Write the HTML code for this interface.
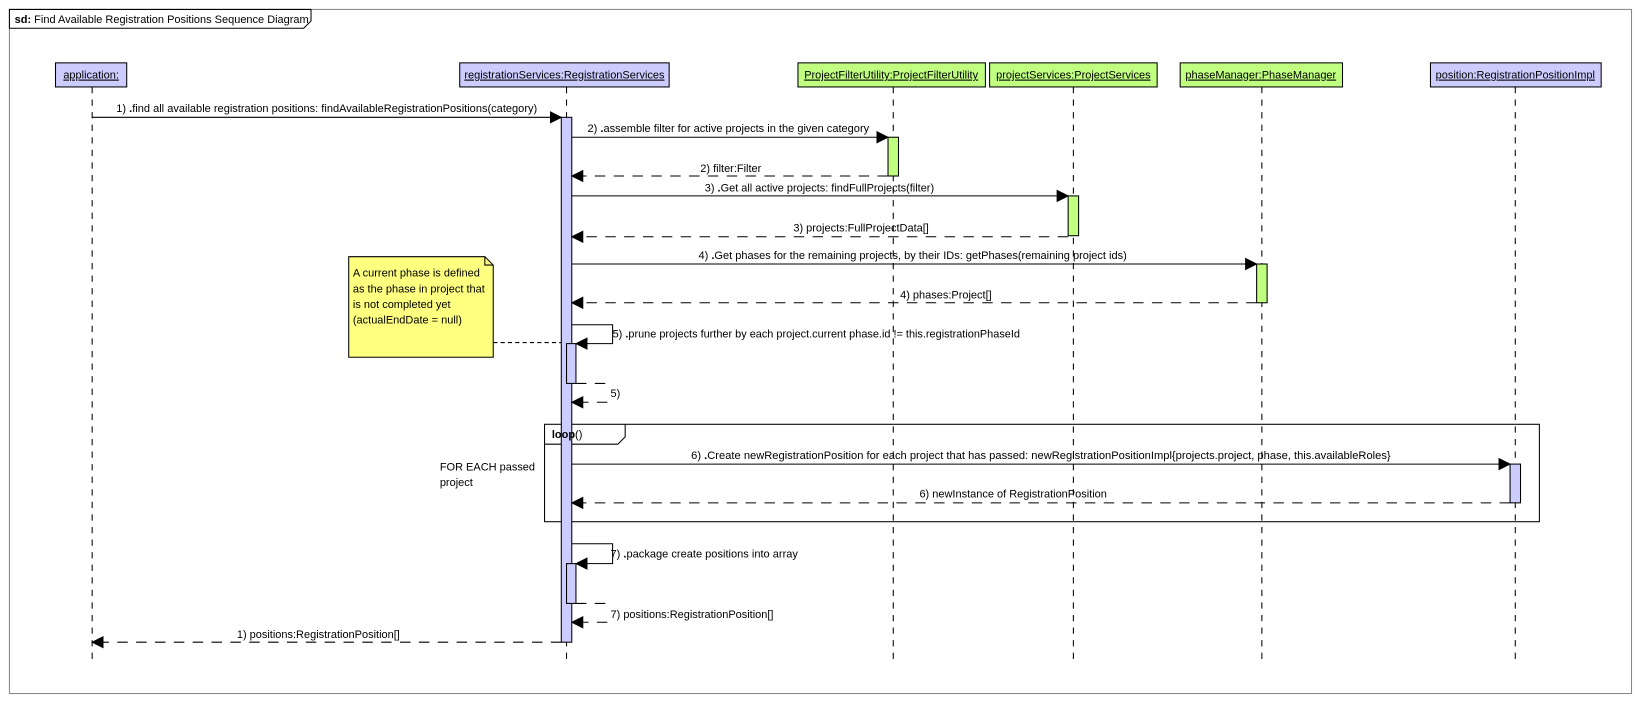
<!DOCTYPE html>
<html><head><meta charset="utf-8"><style>
html,body{margin:0;padding:0;background:#fff;}
svg{display:block;}
text{font-family:"Liberation Sans",sans-serif;font-size:10.5px;fill:#000;}
</style></head><body>
<svg width="1642" height="704" viewBox="0 0 1568 672" preserveAspectRatio="none" xmlns="http://www.w3.org/2000/svg">
<defs>
<marker id="a" markerWidth="12" markerHeight="12" refX="11" refY="6" orient="auto" markerUnits="userSpaceOnUse"><path d="M0,0 L12,6 L0,12 z" fill="#000"/></marker>
</defs>
<rect x="0" y="0" width="1568" height="672" fill="#fff"/>
<rect x="9" y="9" width="1549" height="653" fill="none" stroke="#888" stroke-width="1"/>
<path d="M9,9 H297 V20 L290,27 H9 Z" fill="#fff" stroke="#000"/>
<text x="14" y="22"><tspan font-weight="bold">sd:</tspan> Find Available Registration Positions Sequence Diagram</text>

<!-- lifelines -->
<g stroke="#000" stroke-dasharray="6,6" stroke-width="1">
<line x1="88" y1="83" x2="88" y2="633"/>
<line x1="541" y1="83" x2="541" y2="633"/>
<line x1="853" y1="83" x2="853" y2="633"/>
<line x1="1025" y1="83" x2="1025" y2="633"/>
<line x1="1205" y1="83" x2="1205" y2="633"/>
<line x1="1447" y1="83" x2="1447" y2="633"/>
</g>

<!-- headers -->
<g stroke="#000">
<rect x="53" y="60" width="68" height="23" fill="#ccccff"/>
<rect x="439" y="60" width="200" height="23" fill="#ccccff"/>
<rect x="762" y="60" width="179" height="23" fill="#c0ff80"/>
<rect x="945" y="60" width="160" height="23" fill="#c0ff80"/>
<rect x="1127" y="60" width="155" height="23" fill="#c0ff80"/>
<rect x="1366" y="60" width="163" height="23" fill="#ccccff"/>
</g>
<g text-decoration="underline" text-anchor="middle">
<text x="87" y="75">application:</text>
<text x="539" y="75">registrationServices:RegistrationServices</text>
<text x="851" y="75">ProjectFilterUtility:ProjectFilterUtility</text>
<text x="1025" y="75">projectServices:ProjectServices</text>
<text x="1204" y="75">phaseManager:PhaseManager</text>
<text x="1447" y="75">position:RegistrationPositionImpl</text>
</g>

<!-- note -->
<path d="M333,245 H463 L471,253 V341 H333 Z" fill="#ffff80" stroke="#000"/>
<path d="M463,245 V253 H471" fill="none" stroke="#000"/>
<line x1="471" y1="327" x2="536" y2="327" stroke="#000" stroke-dasharray="4,3"/>
<text x="337" y="264">A current phase is defined</text>
<text x="337" y="279">as the phase in project that</text>
<text x="337" y="294">is not completed yet</text>
<text x="337" y="309">(actualEndDate = null)</text>

<!-- loop frame -->
<rect x="520" y="405" width="950" height="93" fill="none" stroke="#000"/>
<path d="M520,424 H590 L597,417 V405" fill="none" stroke="#000"/>
<text x="420" y="449">FOR EACH passed</text>
<text x="420" y="464">project</text>

<!-- activations -->
<g stroke="#000">
<rect x="536" y="112" width="10" height="501" fill="#ccccff"/>
<rect x="848" y="131" width="10" height="37" fill="#c0ff80"/>
<rect x="1020" y="187" width="10" height="38" fill="#c0ff80"/>
<rect x="1200" y="252" width="10" height="37" fill="#c0ff80"/>
<rect x="541" y="328" width="9" height="38" fill="#ccccff"/>
<rect x="1442" y="443" width="10" height="37" fill="#ccccff"/>
<rect x="541" y="538" width="9" height="38" fill="#ccccff"/>
</g>
<text x="527" y="418"><tspan font-weight="bold">loop</tspan>()</text>

<!-- messages -->
<g stroke="#000" fill="none" stroke-width="1">
<line x1="88" y1="112" x2="536" y2="112" marker-end="url(#a)"/>
<line x1="546" y1="131" x2="848" y2="131" marker-end="url(#a)"/>
<line x1="848" y1="168" x2="546" y2="168" stroke-dasharray="10,8" marker-end="url(#a)"/>
<line x1="546" y1="187" x2="1020" y2="187" marker-end="url(#a)"/>
<line x1="1020" y1="226" x2="546" y2="226" stroke-dasharray="10,8" marker-end="url(#a)"/>
<line x1="546" y1="252" x2="1200" y2="252" marker-end="url(#a)"/>
<line x1="1200" y1="289" x2="546" y2="289" stroke-dasharray="10,8" marker-end="url(#a)"/>
<path d="M546,310 H585 V328 H550" marker-end="url(#a)"/>
<path d="M550,366 H580" stroke-dasharray="10,8"/>
<line x1="580" y1="384" x2="546" y2="384" stroke-dasharray="10,8" marker-end="url(#a)"/>
<line x1="546" y1="443" x2="1442" y2="443" marker-end="url(#a)"/>
<line x1="1442" y1="480" x2="546" y2="480" stroke-dasharray="10,8" marker-end="url(#a)"/>
<path d="M546,519 H585 V538 H550" marker-end="url(#a)"/>
<path d="M550,576 H580" stroke-dasharray="10,8"/>
<line x1="580" y1="594" x2="546" y2="594" stroke-dasharray="10,8" marker-end="url(#a)"/>
<line x1="536" y1="613" x2="88" y2="613" stroke-dasharray="10,8" marker-end="url(#a)"/>
</g>

<!-- labels -->
<text x="111" y="107" textLength="402" lengthAdjust="spacingAndGlyphs">1) <tspan font-weight="bold">.</tspan>find all available registration positions: findAvailableRegistrationPositions(category)</text>
<text x="561" y="126" textLength="269" lengthAdjust="spacingAndGlyphs">2) <tspan font-weight="bold">.</tspan>assemble filter for active projects in the given category</text>
<text x="727" y="164" text-anchor="end">2) filter:Filter</text>
<text x="673" y="183" textLength="219" lengthAdjust="spacingAndGlyphs">3) <tspan font-weight="bold">.</tspan>Get all active projects: findFullProjects(filter)</text>
<text x="887" y="221" text-anchor="end">3) projects:FullProjectData[]</text>
<text x="667" y="247" textLength="409" lengthAdjust="spacingAndGlyphs">4) <tspan font-weight="bold">.</tspan>Get phases for the remaining projects, by their IDs: getPhases(remaining project ids)</text>
<text x="947" y="285" text-anchor="end">4) phases:Project[]</text>
<text x="585" y="322" textLength="389" lengthAdjust="spacingAndGlyphs">5) <tspan font-weight="bold">.</tspan>prune projects further by each project.current phase.id != this.registrationPhaseId</text>
<text x="583" y="379">5)</text>
<text x="660" y="438" textLength="668" lengthAdjust="spacingAndGlyphs">6) <tspan font-weight="bold">.</tspan>Create newRegistrationPosition for each project that has passed: newRegistrationPositionImpl{projects.project, phase, this.availableRoles}</text>
<text x="1057" y="475" text-anchor="end">6) newInstance of RegistrationPosition</text>
<text x="583" y="532" textLength="179" lengthAdjust="spacingAndGlyphs">7) <tspan font-weight="bold">.</tspan>package create positions into array</text>
<text x="583" y="590">7) positions:RegistrationPosition[]</text>
<text x="304" y="609" text-anchor="middle">1) positions:RegistrationPosition[]</text>
</svg>
</body></html>
